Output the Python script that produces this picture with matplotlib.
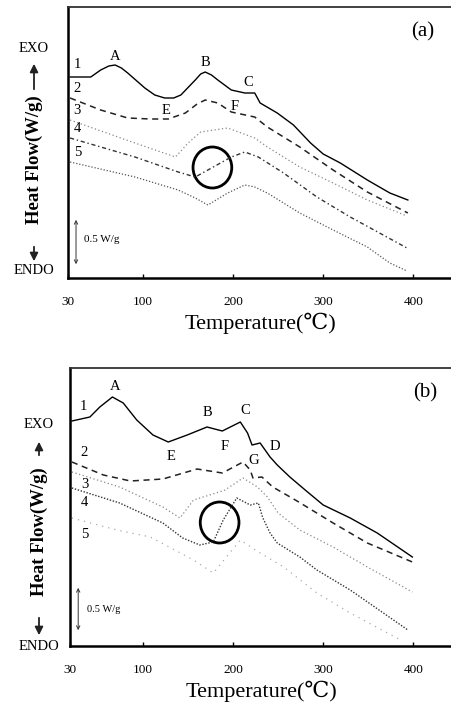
import matplotlib
matplotlib.use("Agg")
import matplotlib.pyplot as plt
from matplotlib.patches import Ellipse, FancyArrowPatch

plt.rcParams['font.family'] = ['Liberation Serif', 'DejaVu Serif']

# ---------------- data: panel (a) ----------------
a1_T = [19, 42, 53, 62, 69, 76, 83, 102, 113, 124, 134, 142, 158, 164, 169, 176, 183, 198, 213, 224, 230, 249, 267, 286, 300, 319, 349, 374, 394]
a1_W = [2.01, 2.01, 2.08, 2.12, 2.13, 2.10, 2.05, 1.90, 1.83, 1.80, 1.80, 1.83, 1.98, 2.04, 2.06, 2.03, 1.98, 1.88, 1.85, 1.85, 1.75, 1.65, 1.53, 1.35, 1.24, 1.15, 0.98, 0.85, 0.78]
a2_T = [19, 53, 83, 108, 128, 147, 160, 169, 183, 198, 224, 238, 274, 311, 349, 394]
a2_W = [1.80, 1.68, 1.60, 1.59, 1.59, 1.65, 1.74, 1.78, 1.75, 1.66, 1.61, 1.51, 1.31, 1.08, 0.86, 0.65]
a3_T = [19, 91, 136, 150, 164, 194, 224, 238, 274, 311, 349, 393]
a3_W = [1.58, 1.35, 1.21, 1.35, 1.46, 1.50, 1.40, 1.31, 1.11, 0.95, 0.78, 0.62]
a4_T = [19, 91, 139, 158, 176, 198, 213, 228, 256, 293, 330, 393]
a4_W = [1.40, 1.21, 1.06, 1.01, 1.10, 1.21, 1.26, 1.21, 1.05, 0.81, 0.61, 0.30]
a5_T = [19, 91, 139, 158, 172, 194, 213, 224, 238, 274, 311, 349, 374, 393]
a5_W = [1.16, 1.01, 0.88, 0.80, 0.73, 0.85, 0.93, 0.91, 0.85, 0.65, 0.48, 0.31, 0.15, 0.07]

# ---------------- data: panel (b) ----------------
b1_T = [21, 41, 52, 66, 78, 93, 111, 128, 149, 171, 188, 208, 216, 221, 230, 241, 249, 263, 280, 300, 330, 360, 399]
b1_W = [2.25, 2.29, 2.39, 2.49, 2.43, 2.26, 2.11, 2.04, 2.11, 2.19, 2.15, 2.24, 2.13, 2.01, 2.03, 1.89, 1.81, 1.69, 1.56, 1.41, 1.28, 1.13, 0.89]
b2_T = [21, 56, 86, 122, 160, 188, 211, 219, 222, 232, 238, 244, 271, 311, 349, 399]
b2_W = [1.84, 1.71, 1.65, 1.67, 1.77, 1.73, 1.84, 1.76, 1.68, 1.69, 1.64, 1.59, 1.45, 1.23, 1.03, 0.84]
b3_T = [21, 74, 122, 141, 156, 174, 191, 211, 227, 238, 250, 274, 311, 349, 399]
b3_W = [1.74, 1.59, 1.39, 1.28, 1.46, 1.51, 1.56, 1.68, 1.59, 1.49, 1.33, 1.16, 0.99, 0.79, 0.54]
b4_T = [21, 74, 122, 144, 163, 178, 189, 204, 219, 228, 233, 241, 249, 274, 293, 330, 394]
b4_W = [1.58, 1.43, 1.23, 1.08, 1.01, 1.04, 1.26, 1.48, 1.41, 1.43, 1.28, 1.13, 1.03, 0.89, 0.76, 0.56, 0.16]
b5_T = [21, 71, 108, 156, 178, 208, 230, 256, 293, 330, 386]
b5_W = [1.28, 1.16, 1.09, 0.86, 0.73, 1.06, 0.93, 0.79, 0.53, 0.33, 0.06]

tick_pos = [100, 200, 300, 400]
tick_labels = ['30', '100', '200', '300', '400']

W, H = 452, 714
fig = plt.figure(figsize=(W / 100, H / 100), dpi=100)

def ax_rect(left, top, bottom, right=W):
    return [left / W, (H - bottom) / H, (right - left) / W, (bottom - top) / H]

styles = [
    dict(color='black', lw=1.0, ls='-'),
    dict(color='#222222', lw=1.1, ls=(0, (4, 3))),
    dict(color='#888888', lw=0.9, ls=(0, (1, 2))),
    dict(color='#333333', lw=1.0, ls=(0, (3, 2, 1, 2))),
    dict(color='#555555', lw=0.9, ls=(0, (1, 1.5))),
]
styles_b = [
    dict(color='black', lw=1.0, ls='-'),
    dict(color='#222222', lw=1.1, ls=(0, (4, 3))),
    dict(color='#888888', lw=0.9, ls=(0, (1, 2))),
    dict(color='#333333', lw=1.0, ls=(0, (1, 1.2))),
    dict(color='#aaaaaa', lw=0.9, ls=(0, (1, 4))),
]

def setup(ax, xmin, ymax):
    ax.set_xlim(xmin, 443)
    ax.set_ylim(0, ymax)
    ax.set_xticks([xmin] + tick_pos)
    ax.set_xticklabels(tick_labels)
    ax.set_yticks([])
    ax.tick_params(axis='x', direction='in', length=3, width=1, pad=13, labelsize=9.5)
    ax.spines['right'].set_visible(False)
    for s in ['left', 'bottom']:
        ax.spines[s].set_linewidth(1.8)
    ax.spines['top'].set_linewidth(1.3)
    ax.spines['top'].set_color('#333333')
    ax.set_xlabel('Temperature(℃)', fontsize=16, labelpad=3)

# ---------- panel (a) ----------
axa = fig.add_axes(ax_rect(68, 7, 278))
setup(axa, 16.7, 2.71)
for (T, Wv), st in zip([(a1_T, a1_W), (a2_T, a2_W), (a3_T, a3_W), (a4_T, a4_W), (a5_T, a5_W)], styles):
    axa.plot(T, Wv, **st)
axa.add_patch(Ellipse((177, 1.105), 43, 0.41, fill=False, lw=2.0, color='black'))
for txt, x, y in [('1', 27, 2.13), ('2', 27, 1.90), ('3', 27, 1.68), ('4', 27, 1.50), ('5', 27, 1.25),
                  ('A', 69, 2.21), ('B', 169, 2.15), ('C', 217, 1.96), ('E', 126, 1.67), ('F', 202, 1.72)]:
    axa.text(x, y, txt, fontsize=10.5, ha='center', va='center')
axa.text(411, 2.46, '(a)', fontsize=15, ha='center', va='center')
axa.annotate('', xy=(25.6, 0.11), xytext=(25.6, 0.61),
             arrowprops=dict(arrowstyle='<->', lw=0.7, color='#333333', mutation_scale=6))
axa.text(35, 0.38, '0.5 W/g', fontsize=8, ha='left', va='center')

# ---------- panel (b) ----------
axb = fig.add_axes(ax_rect(70, 368, 646))
setup(axb, 18.9, 2.78)
for (T, Wv), st in zip([(b1_T, b1_W), (b2_T, b2_W), (b3_T, b3_W), (b4_T, b4_W), (b5_T, b5_W)], styles_b):
    axb.plot(T, Wv, **st)
axb.add_patch(Ellipse((185, 1.235), 43, 0.41, fill=False, lw=2.0, color='black'))
for txt, x, y in [('1', 34, 2.39), ('2', 34, 1.94), ('3', 35, 1.62), ('4', 35, 1.43), ('5', 35, 1.11),
                  ('A', 69, 2.59), ('B', 172, 2.33), ('C', 213, 2.35), ('D', 246, 1.99),
                  ('E', 131, 1.89), ('F', 191, 2.00), ('G', 223, 1.85)]:
    axb.text(x, y, txt, fontsize=10.5, ha='center', va='center')
axb.text(413, 2.53, '(b)', fontsize=15, ha='center', va='center')
axb.annotate('', xy=(28, 0.13), xytext=(28, 0.61),
             arrowprops=dict(arrowstyle='<->', lw=0.7, color='#333333', mutation_scale=6))
axb.text(38, 0.36, '0.5 W/g', fontsize=7.5, ha='left', va='center')

# ---------- side labels ----------
def side(x, exo_y, up_top, up_bot, text_c, dn_top, dn_bot, endo_y):
    fig.text(x / W, (H - exo_y) / H, 'EXO', fontsize=10.5, ha='center', va='center')
    fig.text(x / W, (H - endo_y) / H, 'ENDO', fontsize=10.5, ha='center', va='center')
    fig.text(x / W, (H - text_c) / H, 'Heat Flow(W/g)', fontsize=13.5, fontweight='bold',
             rotation=90, ha='center', va='center')
    fig.add_artist(FancyArrowPatch(
        (x / W, (H - up_bot) / H), (x / W, (H - up_top) / H), transform=fig.transFigure,
        arrowstyle='-|>', mutation_scale=12, lw=1.3, color='#222222'))
    fig.add_artist(FancyArrowPatch(
        (x / W, (H - dn_top) / H), (x / W, (H - dn_bot) / H), transform=fig.transFigure,
        arrowstyle='-|>', mutation_scale=12, lw=1.3, color='#222222'))

side(34, 49, 61, 92, 160, 244, 264, 271)
side(39, 424, 439, 458, 532, 615, 638, 647)

fig.savefig('out.png', dpi=100, facecolor='white')
